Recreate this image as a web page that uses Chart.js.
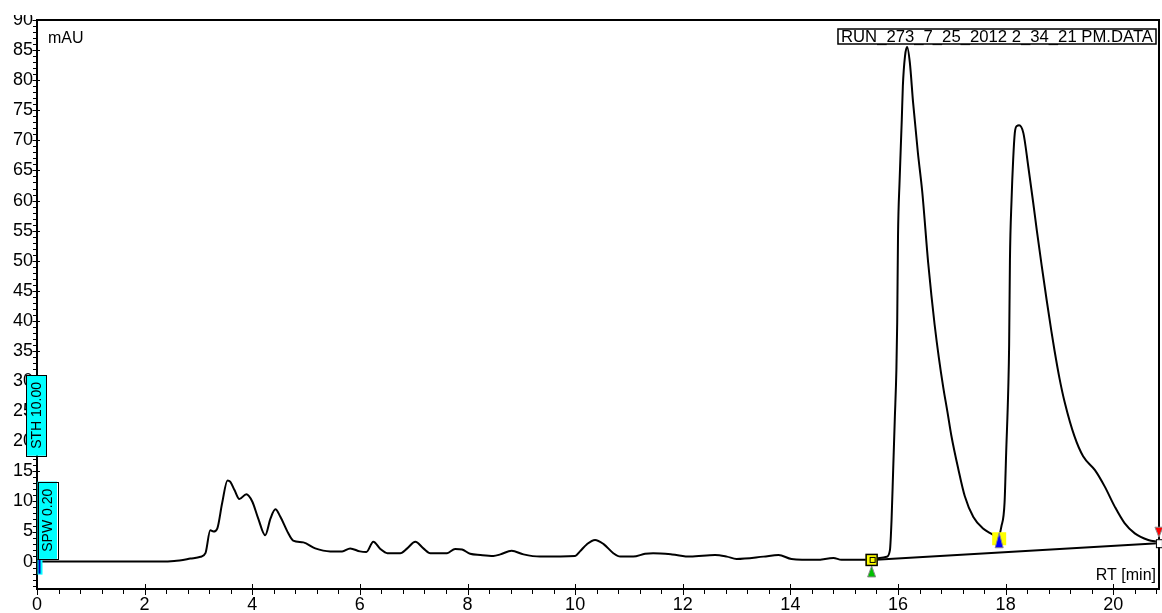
<!DOCTYPE html>
<html>
<head>
<meta charset="utf-8">
<script src="https://cdn.jsdelivr.net/npm/chart.js@4/dist/chart.umd.min.js"></script>
<style>
  html, body { margin: 0; padding: 0; background: #fff; }
  #wrap { width: 1162px; height: 613px; position: relative; }
</style>
</head>
<body>
<div id="wrap"><canvas id="chrom" width="1162" height="613"></canvas></div>
<script>
// Retention time (min) and detector signal (mAU) of the chromatogram trace
const rtMinutes = [
  0, 2.3, 2.55, 2.85, 3.04, 3.13, 3.22, 3.28, 3.35, 3.44, 3.54, 3.59, 3.67, 3.76, 3.89,
  4.0, 4.11, 4.24, 4.34, 4.43, 4.52, 4.67, 4.76, 4.95, 5.17, 5.45, 5.67, 5.82, 6.0, 6.12,
  6.25, 6.38, 6.51, 6.75, 6.88, 7.03, 7.18, 7.31, 7.62, 7.77, 7.9, 8.05, 8.24, 8.48, 8.61,
  8.82, 9.04, 9.35, 10.0, 10.09, 10.22, 10.37, 10.53, 10.71, 10.84, 11.08, 11.3, 11.45, 11.8,
  12.14, 12.6, 12.82, 13.0, 13.5, 13.78, 14.02, 14.49, 14.8, 14.95, 15.48, 15.66, 15.79,
  15.85, 15.88, 15.91, 15.94, 15.97, 15.985, 16.0, 16.03, 16.07, 16.09, 16.13, 16.17, 16.22,
  16.28, 16.37, 16.45, 16.56, 16.62, 16.68, 16.76, 16.84, 16.92, 16.99, 17.12, 17.24, 17.4,
  17.58, 17.74, 17.86, 17.92, 17.98, 18.01, 18.05, 18.065, 18.08, 18.11, 18.14, 18.17, 18.21,
  18.25, 18.33, 18.42, 18.51, 18.58, 18.67, 18.76, 18.85, 18.91, 19.0, 19.1, 19.28, 19.44,
  19.66, 19.84, 20.03, 20.21, 20.4, 20.65, 20.83
];
const signalMAU = [
  0, 0, 0.1, 0.5, 0.8, 1.4, 5.2, 5.0, 5.5, 9.7, 13.5, 13.3, 11.9, 10.4, 11.2,
  10.0, 7.2, 4.4, 7.2, 8.7, 7.5, 4.7, 3.5, 3.2, 2.2, 1.7, 1.7, 2.2, 1.7, 1.6,
  3.3, 2.1, 1.4, 1.4, 2.2, 3.3, 2.2, 1.4, 1.4, 2.1, 2.0, 1.3, 1.1, 0.95, 1.2,
  1.8, 1.2, 0.83, 0.94, 1.7, 2.9, 3.6, 2.9, 1.4, 0.83, 0.83, 1.3, 1.4, 1.2,
  0.83, 1.1, 0.83, 0.45, 0.83, 1.1, 0.45, 0.3, 0.6, 0.3, 0.3, 0.6, 0.8,
  1.9, 6.9, 15.2, 23.6, 31.9, 39.7, 54.0, 63.4, 73.4, 79.0, 84.0, 85.5, 82.9,
  76.3, 67.9, 61.5, 49.7, 44.3, 39.4, 33.8, 29.0, 24.8, 21.0, 15.4, 10.9, 7.4,
  5.5, 4.6, 4.0, 5.8, 9.8, 18.1, 29.1, 36.0, 50.1, 60.1, 66.8, 71.2, 72.4,
  72.5, 71.2, 65.7, 59.8, 55.0, 49.2, 43.6, 38.3, 35.0, 30.5, 26.4, 20.8, 17.5,
  15.2, 12.5, 9.1, 6.4, 4.7, 3.6, 3.3
];

// Integration baseline drawn under the two main peaks
const baselineRT = [15.51, 20.83];
const baselineMAU = [0.28, 3.06];

// Integration event points: peak start, valley drop, peak end
const peakStartPoint = [15.51, 0.28];
const valleyPoint = [17.88, 3.8];
const peakEndPoint = [20.83, 3.06];

// Timed integration events at the start of the run: [label, lower mAU, upper mAU]
const eventSPW = ['SPW 0.20', 0.45, 13.3];
const eventSTH = ['STH 10.00', 17.6, 31.0];

// Axis ticks and texts
const xTickValues = [0, 2, 4, 6, 8, 10, 12, 14, 16, 18, 20];
const yTickValues = [0, 5, 10, 15, 20, 25, 30, 35, 40, 45, 50, 55, 60, 65, 70, 75, 80, 85, 90];
const xRange = [0, 20.85];
const yRange = [-4.55, 90.0];
const xUnitText = 'RT [min]';
const yUnitText = 'mAU';
const runFileName = 'RUN_273_7_25_2012 2_34_21 PM.DATA';

const FONT = '"Liberation Sans", Arial, Helvetica, sans-serif';

function tri(ctx, x, yApex, yBase, half, fill, stroke) {
  ctx.beginPath();
  ctx.moveTo(x, yApex);
  ctx.lineTo(x - half, yBase);
  ctx.lineTo(x + half, yBase);
  ctx.closePath();
  ctx.fillStyle = fill;
  ctx.fill();
  ctx.strokeStyle = stroke;
  ctx.lineWidth = 1;
  ctx.stroke();
}

// Frame, tick marks, annotations and integration markers
const chromDecor = {
  id: 'chromDecor',
  afterDraw(chart) {
    const ctx = chart.ctx;
    const xs = chart.scales.x, ys = chart.scales.y;
    const ca = chart.chartArea;
    ctx.save();

    // hide the part of the top label above the plot window
    ctx.fillStyle = '#fff';
    ctx.fillRect(0, 0, ca.left - 2, 15);

    // frame top and right
    ctx.strokeStyle = '#000';
    ctx.lineWidth = 2;
    ctx.beginPath();
    ctx.moveTo(ca.left, ca.top);
    ctx.lineTo(ca.right, ca.top);
    ctx.lineTo(ca.right, ca.bottom);
    ctx.stroke();

    // y tick marks: minor every 1 mAU, major every 5
    ctx.lineWidth = 1;
    ctx.beginPath();
    for (let v = Math.ceil(yRange[0]); v <= yRange[1]; v += 1) {
      const p = Math.round(ys.getPixelForValue(v)) + 0.5;
      const major = v % 5 === 0;
      ctx.moveTo(major ? ca.left - 4.5 : ca.left - 4, p);
      ctx.lineTo(major ? ca.left + 3 : ca.left, p);
    }
    // x tick marks: minor every 0.4 min, major every 2
    for (let i = 0; i * 0.4 <= xRange[1] + 1e-9; i++) {
      const v = i * 0.4;
      const p = Math.round(xs.getPixelForValue(v)) + 0.5;
      const major = i % 5 === 0;
      ctx.moveTo(p, major ? ca.bottom - 5 : ca.bottom);
      ctx.lineTo(p, major ? ca.bottom + 6 : ca.bottom + 5);
    }
    ctx.stroke();

    // unit texts
    ctx.fillStyle = '#000';
    ctx.font = '16px ' + FONT;
    ctx.textAlign = 'left';
    ctx.textBaseline = 'alphabetic';
    ctx.fillText(yUnitText, ca.left + 11, 43);
    ctx.textAlign = 'right';
    ctx.fillText(xUnitText, ca.right - 3, 580);

    // run file name box
    ctx.font = '16.7px ' + FONT;
    const tw = ctx.measureText(runFileName).width;
    const bx1 = ca.right - 3, bx0 = bx1 - tw - 6;
    ctx.fillStyle = '#fff';
    ctx.fillRect(bx0, 29, bx1 - bx0, 15);
    ctx.strokeStyle = '#000';
    ctx.lineWidth = 1.5;
    ctx.strokeRect(bx0, 29, bx1 - bx0, 15);
    ctx.fillStyle = '#000';
    ctx.textAlign = 'left';
    ctx.fillText(runFileName, bx0 + 3, 42);

    // injection marker at t = 0
    const x0 = xs.getPixelForValue(0), y0 = ys.getPixelForValue(0);
    ctx.fillStyle = '#00ffff';
    ctx.fillRect(x0 + 0.5, y0 - 2, 5, 15);
    ctx.strokeStyle = '#0000c0';
    ctx.lineWidth = 2;
    ctx.beginPath();
    ctx.moveTo(x0 + 2.5, y0 - 2);
    ctx.lineTo(x0 + 2.5, y0 + 12);
    ctx.stroke();

    // timed event boxes
    function eventBox(ev, left, width) {
      const yt = ys.getPixelForValue(ev[2]), yb = ys.getPixelForValue(ev[1]);
      ctx.fillStyle = '#00ffff';
      ctx.fillRect(left, yt, width, yb - yt);
      ctx.strokeStyle = '#000';
      ctx.lineWidth = 1;
      ctx.strokeRect(Math.round(left) + 0.5, Math.round(yt) + 0.5, Math.round(width), Math.round(yb - yt));
      ctx.save();
      ctx.translate(left + width / 2, (yt + yb) / 2);
      ctx.rotate(-Math.PI / 2);
      ctx.fillStyle = '#000';
      ctx.font = '14px ' + FONT;
      ctx.textAlign = 'center';
      ctx.textBaseline = 'middle';
      ctx.fillText(ev[0], 0, 1);
      ctx.restore();
    }
    eventBox(eventSTH, x0 - 11, 20);
    eventBox(eventSPW, x0 + 0.5, 19.5);

    // peak start marker
    let px = xs.getPixelForValue(peakStartPoint[0]), py = ys.getPixelForValue(peakStartPoint[1]);
    tri(ctx, px, py + 6, py + 17, 4, '#00c000', '#8a8a8a');
    ctx.fillStyle = '#ffff00';
    ctx.fillRect(px - 6, py - 6, 12, 12);
    ctx.strokeStyle = '#000';
    ctx.lineWidth = 1.5;
    ctx.strokeRect(px - 5.5, py - 5.5, 11, 11);
    ctx.lineWidth = 1;
    ctx.strokeRect(px - 1.5, py - 2.5, 5, 5);

    // valley marker
    px = xs.getPixelForValue(valleyPoint[0]); py = ys.getPixelForValue(valleyPoint[1]);
    ctx.fillStyle = '#ffff00';
    ctx.fillRect(px - 7, py - 6.5, 14, 13);
    tri(ctx, px, py - 6, py + 9, 4, '#0000ff', '#8a8a8a');

    // peak end marker
    px = xs.getPixelForValue(peakEndPoint[0]); py = ys.getPixelForValue(peakEndPoint[1]);
    tri(ctx, px + 1, py - 6, py - 16, 4, '#ff0000', '#8a8a8a');
    ctx.fillStyle = '#fff';
    ctx.fillRect(px - 2, py - 4, 6, 8);
    ctx.strokeStyle = '#000';
    ctx.lineWidth = 1;
    ctx.strokeRect(px - 1.5, py - 3.5, 6, 8);

    ctx.restore();
  }
};

const traceData = rtMinutes.map((t, i) => ({ x: t, y: signalMAU[i] }));
const baselineData = baselineRT.map((t, i) => ({ x: t, y: baselineMAU[i] }));

new Chart(document.getElementById('chrom'), {
  type: 'line',
  data: {
    datasets: [
      {
        data: baselineData,
        borderColor: '#000',
        borderWidth: 2,
        pointRadius: 0,
        tension: 0
      },
      {
        data: traceData,
        borderColor: '#000',
        borderWidth: 2,
        pointRadius: 0,
        cubicInterpolationMode: 'monotone'
      }
    ]
  },
  options: {
    responsive: false,
    animation: false,
    devicePixelRatio: 1,
    layout: { padding: { top: 20, right: 3, left: 0, bottom: 0 } },
    plugins: { legend: { display: false }, tooltip: { enabled: false } },
    scales: {
      x: {
        type: 'linear',
        position: 'bottom',
        min: xRange[0],
        max: xRange[1],
        afterBuildTicks: s => { s.ticks = xTickValues.map(v => ({ value: v })); },
        afterFit: s => { s.height = 24; },
        grid: { display: false, drawTicks: false },
        border: { display: true, color: '#000', width: 2 },
        ticks: {
          autoSkip: false, maxRotation: 0, padding: 5,
          color: '#000', font: { family: FONT, size: 18 },
          callback: v => String(v)
        }
      },
      y: {
        type: 'linear',
        min: yRange[0],
        max: yRange[1],
        afterBuildTicks: s => { s.ticks = yTickValues.map(v => ({ value: v })); },
        afterFit: s => { s.width = 37; },
        grid: { display: false, drawTicks: false },
        border: { display: true, color: '#000', width: 2 },
        ticks: {
          autoSkip: false, padding: 4,
          color: '#000', font: { family: FONT, size: 18 },
          callback: v => String(v)
        }
      }
    }
  },
  plugins: [chromDecor]
});
</script>
</body>
</html>
